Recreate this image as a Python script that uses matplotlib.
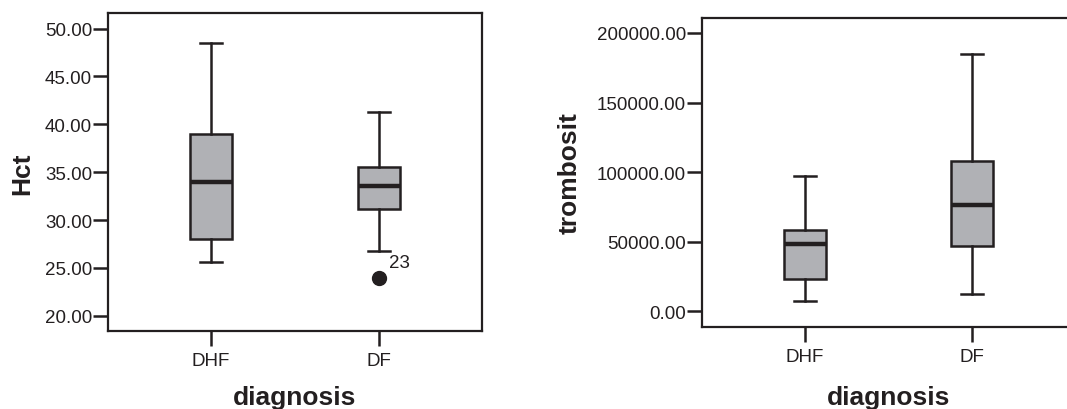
import matplotlib
matplotlib.use("Agg")
import matplotlib.pyplot as plt

plt.rcParams['font.family'] = ['Liberation Sans', 'DejaVu Sans']

categories = ["DHF", "DF"]

# Hct
hct_q1 = [28.0, 31.2]
hct_med = [33.98, 33.6]
hct_q3 = [39.0, 35.58]
hct_lo = [25.58, 26.8]
hct_hi = [48.5, 41.26]
hct_fliers = [[], [23.94]]
hct_flier_labels = [[], ["23"]]
hct_ticks = [20, 25, 30, 35, 40, 45, 50]

# trombosit
tr_q1 = [23200, 47100]
tr_med = [48400, 76200]
tr_q3 = [58400, 108200]
tr_lo = [7200, 12400]
tr_hi = [97000, 184700]
tr_fliers = [[], []]
tr_ticks = [0, 50000, 100000, 150000, 200000]

BOX = "#b0b1b5"
DARK = "#231f20"

fig = plt.figure(figsize=(10.67, 4.10), dpi=100)
W, H = 1067.0, 410.0
ax1 = fig.add_axes([108 / W, (H - 332.3) / H, 374 / W, (332.3 - 14.3) / H])
ax2 = fig.add_axes([702 / W, (H - 327.7) / H, 372.6 / W, (327.7 - 19) / H])


def stats(q1, med, q3, lo, hi, fl):
    return [dict(q1=a, med=b, q3=c, whislo=d, whishi=e, fliers=f)
            for a, b, c, d, e, f in zip(q1, med, q3, lo, hi, fl)]


def draw(ax, st):
    ax.bxp(st, positions=[1, 2], widths=0.25, capwidths=0.13,
           patch_artist=True,
           boxprops=dict(facecolor=BOX, edgecolor=DARK, linewidth=1.8),
           whiskerprops=dict(color=DARK, linewidth=1.8),
           capprops=dict(color=DARK, linewidth=1.8),
           medianprops=dict(color=DARK, linewidth=3.2),
           flierprops=dict(marker='o', markerfacecolor=DARK,
                           markeredgecolor=DARK, markersize=10),
           manage_ticks=False)
    ax.set_xlim(0.388, 2.61)
    ax.set_xticks([1, 2])
    ax.set_xticklabels(categories)
    for s in ax.spines.values():
        s.set_linewidth(1.6)
        s.set_color(DARK)
    ax.tick_params(axis='both', length=11, width=1.8, color=DARK,
                   labelsize=13.5, labelcolor=DARK)
    ax.tick_params(axis='y', pad=0.5)
    ax.tick_params(axis='x', pad=4)


draw(ax1, stats(hct_q1, hct_med, hct_q3, hct_lo, hct_hi, hct_fliers))
ax1.set_ylim(18.37, 51.6)
ax1.set_yticks(hct_ticks)
ax1.set_yticklabels([f"{v:.2f}" for v in hct_ticks])
for i, labs in enumerate(hct_flier_labels):
    for v, lab in zip(hct_fliers[i], labs):
        ax1.text(i + 1 + 0.058, v + 1.65, lab, fontsize=13.5, color=DARK,
                 ha='left', va='center')

draw(ax2, stats(tr_q1, tr_med, tr_q3, tr_lo, tr_hi, tr_fliers))
ax2.set_ylim(-11067, 210779)
ax2.set_yticks(tr_ticks)
ax2.set_yticklabels([f"{v:.2f}" for v in tr_ticks])

ax1.set_ylabel("Hct", fontsize=19, fontweight='bold', color=DARK, va='center')
ax1.yaxis.set_label_coords(-0.228, 0.5)
ax1.set_xlabel("diagnosis", fontsize=19, fontweight='bold', color=DARK, va='center')
ax1.xaxis.set_label_coords(0.5, -0.208)

ax2.set_ylabel("trombosit", fontsize=19, fontweight='bold', color=DARK, va='center')
ax2.yaxis.set_label_coords(-0.354, 0.5)
ax2.set_xlabel("diagnosis", fontsize=19, fontweight='bold', color=DARK, va='center')
ax2.xaxis.set_label_coords(0.5, -0.229)

fig.savefig("out.png", dpi=100)
